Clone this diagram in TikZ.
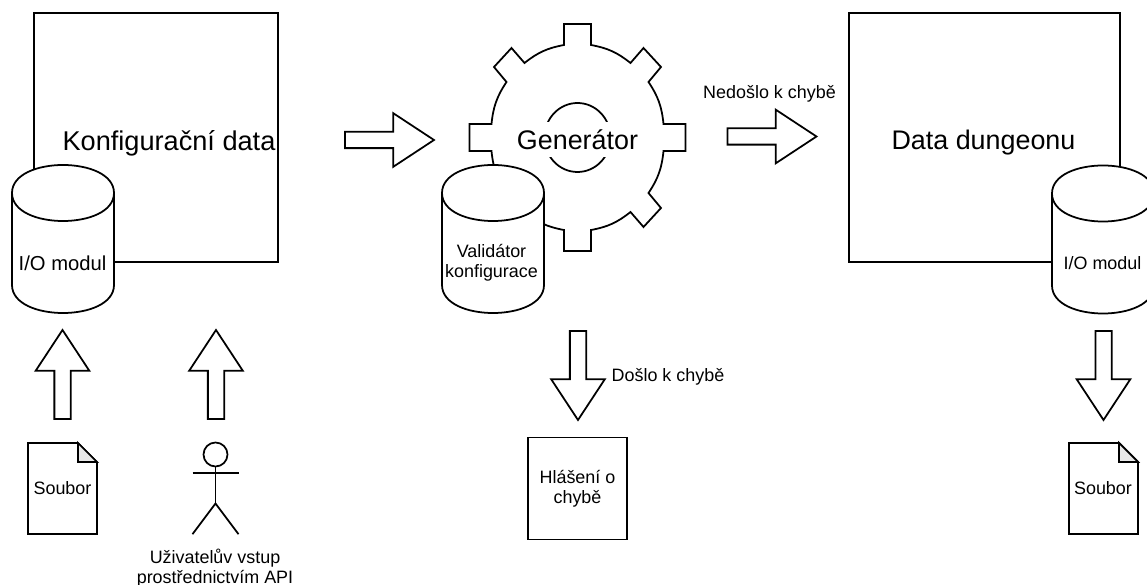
\documentclass[tikz,border=0pt]{standalone}
\usepackage{fontspec}
\setmainfont{Liberation Sans}
\usepackage{tikz}
\usetikzlibrary{shapes.arrows}
\definecolor{myfoldcolor}{HTML}{e8e8e8}
\tikzset{
  myline/.style={draw=black, line width=1pt, line join=miter},
  mybox/.style={myline, fill=white, rectangle, inner sep=0pt},
  mysmall/.style={align=center, inner sep=0pt, font=\fontsize{10.2pt}{11.3pt}\selectfont},
  mybig/.style={align=center, inner sep=0pt, font=\fontsize{15.3pt}{18pt}\selectfont},
  myarrow/.style={myline, fill=white, single arrow, anchor=tail, inner sep=0pt, outer sep=0pt,
    text height=0.29cm, text depth=0pt, text width=0pt, minimum height=1.78cm, minimum width=1.04cm,
    single arrow head extend=0.375cm, single arrow tip angle=66.7},
  mydrum/.pic={
    \draw[myline, fill=white] (0,-0.56) .. controls (0,0.187) and (2.04,0.187) .. (2.04,-0.56) -- (2.04,-2.4)
      .. controls (2.04,-3.147) and (0,-3.147) .. (0,-2.4) -- cycle;
    \draw[myline] (0,-0.56) .. controls (0,-1.307) and (2.04,-1.307) .. (2.04,-0.56);
  },
  mypaper/.pic={
    \draw[myline, fill=white] (0,0) -- (1,0) -- (1.38,-0.38) -- (1.38,-1.82) -- (0,-1.82) -- cycle;
    \draw[myline, fill=myfoldcolor] (1,0) -- (1,-0.38) -- (1.38,-0.38) -- cycle;
  },
  myperson/.pic={
    \draw[myline, fill=white] (0,0) circle (0.24);
    \draw[myline] (0,-0.24) -- (0,-0.98) (-0.46,-0.374) -- (0.46,-0.374);
    \draw[myline] (-0.46,-1.594) -- (0,-0.98) -- (0.46,-1.594);
  },
}
\begin{document}
\begin{tikzpicture}%
\useasboundingbox (0,0) rectangle (22.94,-11.7);%
\clip (0,0) rectangle (22.94,-11.7);%
% data boxes
\node[mybox, minimum width=4.88cm, minimum height=4.98cm] (confbox) at (3.12, -2.75) {};%
\node[mybox, minimum width=5.42cm, minimum height=4.98cm] (dungeonbox) at (19.69, -2.75) {};%
\node[mybig, font=\fontsize{15.45pt}{18pt}\selectfont] (conftext) at (3.38, -2.86) {Konfigurační data};%
\node[mybig] (dungeontext) at (19.67, -2.86) {Data dungeonu};%
% gear
\begin{scope}[shift={(11.55,-2.75)}]
\draw[myline, fill=white] (-0.27,1.85) -- (-0.27,2.27) -- (0.27,2.27) -- (0.27,1.85) to[bend left=14]
  (1.06,1.49) -- (1.32,1.79) -- (1.67,1.41) -- (1.42,1.11) to[bend left=14]
  (1.72,0.27) -- (2.16,0.27) -- (2.16,-0.27) -- (1.72,-0.27) to[bend left=14]
  (1.42,-1.11) -- (1.67,-1.41) -- (1.32,-1.79) -- (1.06,-1.49) to[bend left=14]
  (0.27,-1.85) -- (0.27,-2.27) -- (-0.27,-2.27) -- (-0.27,-1.85) to[bend left=14]
  (-1.06,-1.49) -- (-1.32,-1.79) -- (-1.67,-1.41) -- (-1.42,-1.11) to[bend left=14]
  (-1.72,-0.27) -- (-2.16,-0.27) -- (-2.16,0.27) -- (-1.72,0.27) to[bend left=14]
  (-1.42,1.11) -- (-1.67,1.41) -- (-1.32,1.79) -- (-1.06,1.49) to[bend left=14] cycle;%
\draw[myline] (0,0) ellipse (0.66 and 0.69);%
\end{scope}
\node[mybig, fill=white, minimum height=0.7cm] (gentext) at (11.55, -2.79) {Generátor};%
% cylinders
\pic at (0.24, -3.3) {mydrum};%
\pic at (8.84, -3.3) {mydrum};%
\pic at (21.04, -3.31) {mydrum};%
\node[mysmall, font=\fontsize{11.5pt}{13pt}\selectfont] (iotext1) at (1.25, -5.26) {I/O modul};%
\node[mysmall] (validtext) at (9.83, -5.26) {Validátor\\konfigurace};%
\node[mysmall] (iotext2) at (22.05, -5.26) {I/O modul};%
% arrows
\node[myarrow] (arrow1) at (6.9, -2.8) {};%
\node[myarrow] (arrow2) at (14.55, -2.73) {};%
\node[myarrow, rotate=90] (arrow3) at (1.25, -8.38) {};%
\node[myarrow, rotate=90] (arrow4) at (4.32, -8.38) {};%
\node[myarrow, rotate=-90] (arrow5) at (11.56, -6.62) {};%
\node[myarrow, rotate=-90] (arrow6) at (22.07, -6.62) {};%
\node[mysmall] (oktext) at (15.39, -1.87) {Nedošlo k chybě};%
\node[mysmall] (errtext) at (13.36, -7.53) {Došlo k chybě};%
% sources and outputs
\pic at (0.56, -8.86) {mypaper};%
\pic at (21.38, -8.86) {mypaper};%
\node[mysmall] (filetext1) at (1.25, -9.76) {Soubor};%
\node[mysmall] (filetext2) at (22.06, -9.76) {Soubor};%
\pic at (4.31, -9.09) {myperson};%
\node[mysmall] (usertext) at (4.3, -11.37) {Uživatelův vstup\\prostřednictvím API};%
\node[mybox, mysmall, myline, minimum width=1.99cm, minimum height=2.04cm] (errbox) at (11.55, -9.77) {Hlášení o\\chybě};%
\end{tikzpicture}
\end{document}
